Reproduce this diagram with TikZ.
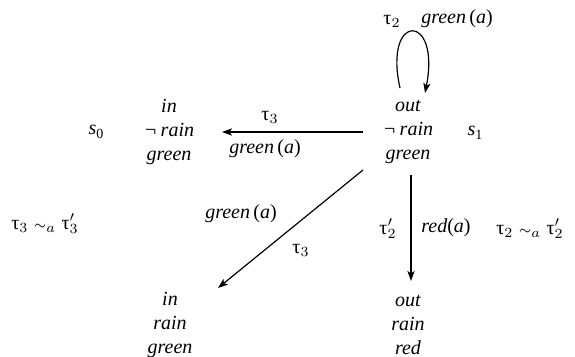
\documentclass[tikz,border=0pt]{standalone}
\usepackage{fontspec}
\setmainfont{Liberation Serif}
\usetikzlibrary{arrows.meta,calc}
\newcommand\mysb[1]{\raisebox{-0.45ex}{\fontsize{7}{7}\selectfont #1}}
\newcommand\tu[1]{$\hbox{τ}_{#1}$}
\newcommand\tp[1]{$\hbox{τ}'_{#1}$}
\newcommand\simA{$\;{\scriptstyle\sim}_{a}\;$}
\newcommand\grn{\textit{green}\,(\textit{a})}
\begin{document}
\begin{tikzpicture}[x=0.5pt,y=-0.5pt,
  every node/.style={inner sep=1pt,font=\fontsize{10}{12}\selectfont},
  state/.style={align=center,font=\fontsize{10}{12}\selectfont\itshape},
  arr/.style={-{Stealth[length=5pt,width=3.6pt,inset=1.2pt]},line width=0.6pt}]
\useasboundingbox (0,0) rectangle (575,357);
\node[state] (n1) at (408,132) {out\\¬\,rain\\green};
\node[state] (n0) at (169,132) {in\\¬\,rain\\green};
\node[state] (n2) at (170,325) {in\\rain\\green};
\node[state] (n3) at (408,325) {out\\rain\\red};
\node (l0) at (96,132) {\textit{s}\mysb{0}};
\node (l1) at (475,133) {\textit{s}\mysb{1}};
% connectors
\coordinate (a1) at (363,132);
\coordinate (a0) at (222,132);
\draw[arr] (a1) -- (a0);
\coordinate (d1) at (363,170);
\coordinate (d2) at (218,288);
\draw[arr] (d1) -- (d2);
\coordinate (v1) at (411,175);
\coordinate (v2) at (411,281);
\draw[arr] (v1) -- (v2);
\coordinate (p1) at (400,88);
\coordinate (p2) at (425,93);
\draw[arr] (p1) .. controls (383,12) and (441,12) .. (p2);
% labels
\node (t3a) at (270,117) {\tu{3}};
\node (g1) at (265,149) {\grn};
\node (t2a) at (392,21) {\tu{2}};
\node (g2) at (457,19) {\grn};
\node (g3) at (241,214) {\grn};
\node (t3b) at (301,250) {\tu{3}};
\node (t2p) at (388,229) {\tp{2}};
\node (r1) at (446,228) {\textit{red}(\textit{a})};
\node (e2) at (530,229) {\tu{2}\simA\tp{2}};
\node (e3) at (45,224) {\tu{3}\simA\tp{3}};
\end{tikzpicture}
\end{document}
